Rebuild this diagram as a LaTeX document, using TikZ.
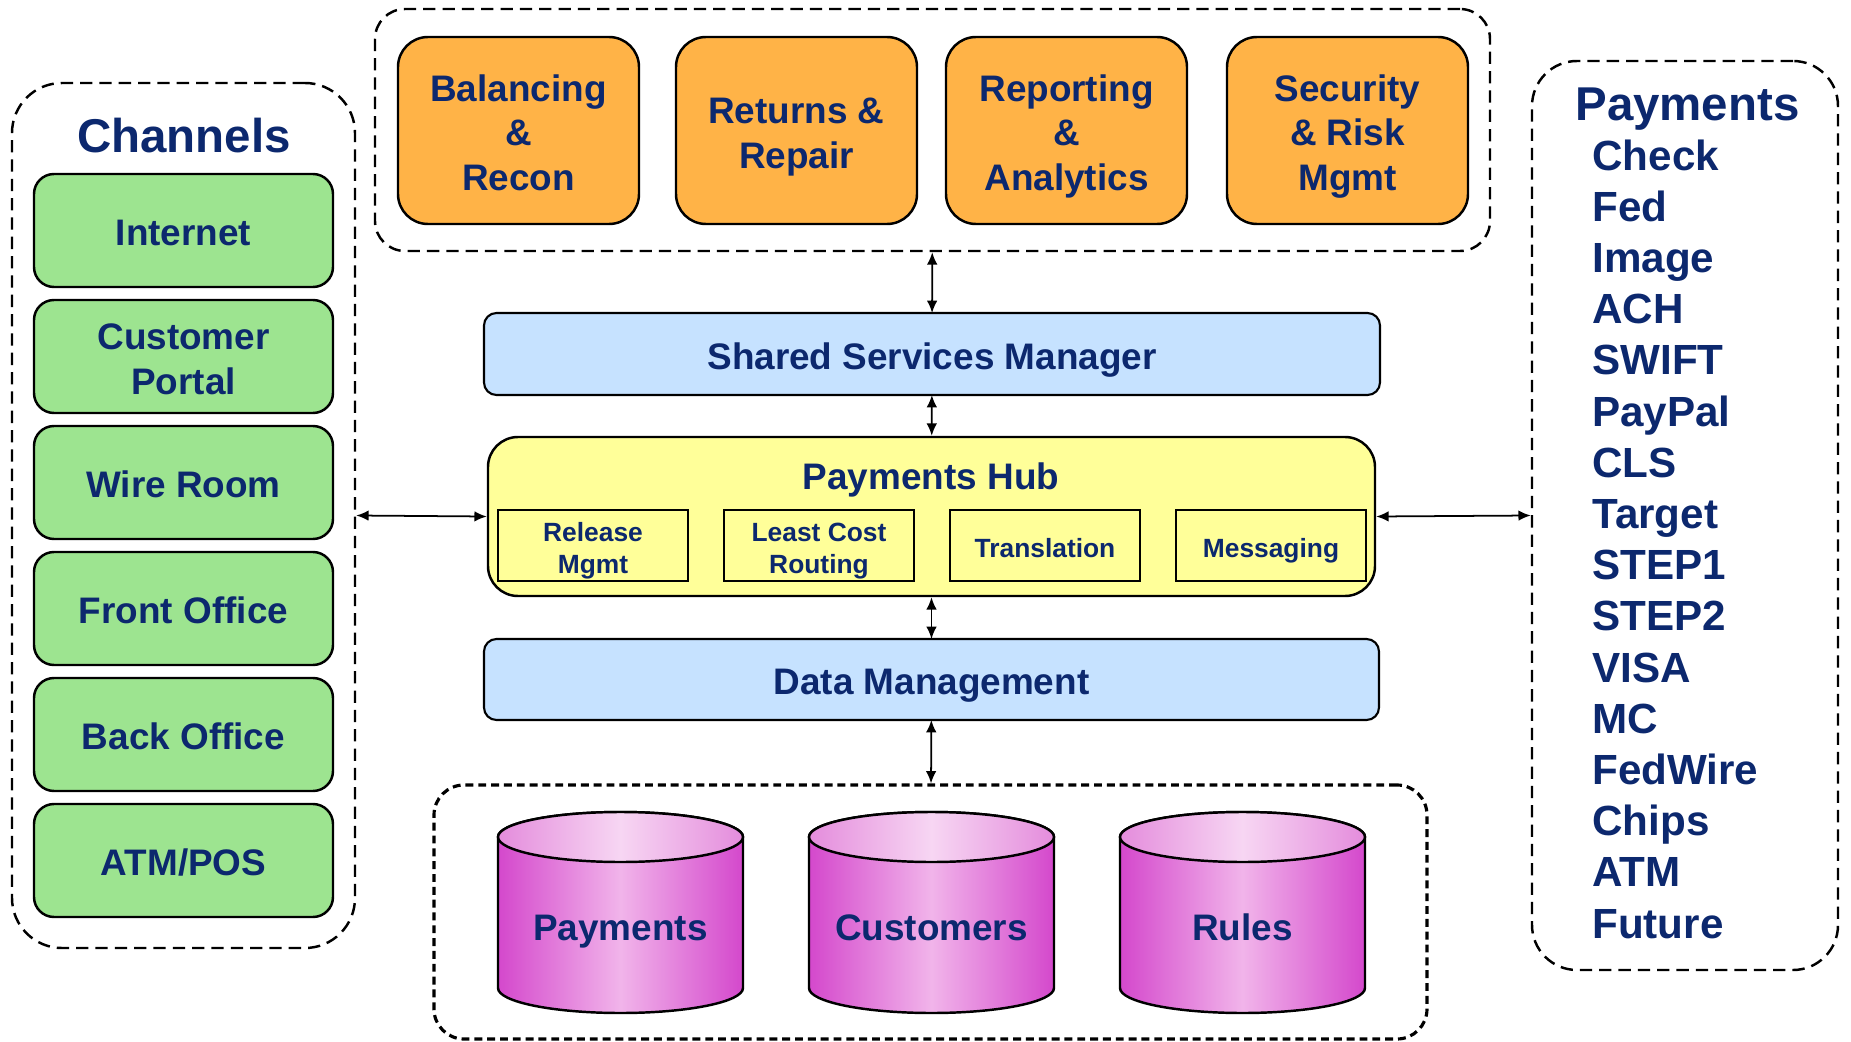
\documentclass[tikz,border=0pt]{standalone}
\usepackage{fontspec}
\setmainfont{Liberation Sans}
\usetikzlibrary{positioning,arrows.meta,backgrounds}

\definecolor{txtblue}{RGB}{12,40,110}
\definecolor{chgreen}{RGB}{157,228,144}
\definecolor{svorange}{RGB}{255,179,71}
\definecolor{mgrblue}{RGB}{198,226,255}
\definecolor{hubyellow}{RGB}{255,255,153}
\definecolor{dbdark}{RGB}{212,72,204}
\definecolor{dblight}{RGB}{241,180,234}
\definecolor{dbtopdark}{RGB}{228,140,220}
\definecolor{dbtoplight}{RGB}{247,214,243}

\newcommand\boxfont{\fontsize{21}{25.5}\selectfont\bfseries}
\newcommand\smallboxfont{\fontsize{15}{18}\selectfont\bfseries}
\newcommand\titlefont{\fontsize{27}{30}\selectfont\bfseries}
\newcommand\listfont{\fontsize{24}{28}\selectfont\bfseries}

\begin{document}
\begin{tikzpicture}[grpbox/.style={draw,line width=1.4pt,dash pattern=on 7pt off 4pt,rounded corners=0.6cm,inner sep=0pt},
		boxtext/.style={align=center,text=txtblue,font=\boxfont,outer sep=0pt,
			execute at begin node={\rule[-5pt]{0pt}{27.6pt}},execute at end node={\rule[-5pt]{0pt}{5pt}}},
		twoline/.style={execute at begin node={\rule[-5pt]{0pt}{53.1pt}}},
		threeline/.style={execute at begin node={\rule[-5pt]{0pt}{78.6pt}}},
		chan/.style={boxtext,draw,line width=1.4pt,rounded corners=0.4cm,fill=chgreen,minimum width=5.98cm,minimum height=2.26cm},
		svc/.style={boxtext,draw,line width=1.4pt,rounded corners=0.6cm,fill=svorange,minimum width=4.82cm,minimum height=3.74cm},
		mgr/.style={boxtext,draw,line width=1.2pt,rounded corners=0.25cm,fill=mgrblue,minimum width=17.92cm,minimum height=1.64cm},
		hubpart/.style={draw,line width=1.2pt,fill=hubyellow,minimum width=3.80cm,minimum height=1.42cm,inner ysep=1pt,align=center,text=txtblue,font=\smallboxfont,outer sep=0pt,
			execute at begin node={\rule[-3.2pt]{0pt}{19.7pt}},execute at end node={\rule[-3.2pt]{0pt}{3.2pt}}},
		smalltwoline/.style={execute at begin node={\rule[-3.2pt]{0pt}{37.7pt}}},
		db/.style={boxtext,minimum width=4.90cm,minimum height=3.52cm},
		dbbody/.style={draw,line width=1.4pt,left color=dbdark,right color=dbdark,middle color=dblight},
		dbtop/.style={draw,line width=1.4pt,left color=dbtopdark,right color=dbtopdark,middle color=dbtoplight},
		pitem/.style={anchor=base west,text=txtblue,font=\listfont,inner sep=0pt},
		biarrow/.style={{Latex[length=7pt,width=6pt]}-{Latex[length=7pt,width=6pt]},line width=1pt}]
		\useasboundingbox (0,0) rectangle (37.02,-20.84);

		\node[grpbox,rounded corners=1cm,minimum width=6.86cm,minimum height=17.30cm]	(channels)	at (3.67,-10.31)	{};
		\node[text=txtblue,font=\titlefont]										(chtitle)	at (3.68,-2.72)		{Channels};
		\node[chan]												(internet)	at (3.67,-4.61)		{Internet};
		\node[chan,twoline,node distance=0.26cm,below=of internet]		(portal)				{Customer\\Portal};
		\node[chan,node distance=0.26cm,below=of portal]				(wire)				{Wire Room};
		\node[chan,node distance=0.26cm,below=of wire]				(front)				{Front Office};
		\node[chan,node distance=0.26cm,below=of front]				(back)				{Back Office};
		\node[chan,node distance=0.26cm,below=of back]				(atm)				{ATM/POS};

		\node[grpbox,minimum width=22.30cm,minimum height=4.84cm]			(services)	at (18.65,-2.60)	{};
		\node[svc,threeline]										(balance)	at (10.37,-2.61)	{Balancing\\\&\\Recon};
		\node[svc,twoline,node distance=0.74cm,right=of balance]		(returns)				{Returns \&\\Repair};
		\node[svc,threeline,node distance=0.58cm,right=of returns]		(report)				{Reporting\\\&\\Analytics};
		\node[svc,threeline,node distance=0.80cm,right=of report]		(security)				{Security\\\& Risk\\Mgmt};

		\node[mgr]												(ssm)		at (18.64,-7.08)	{Shared Services Manager};
		\node[draw,line width=1.4pt,rounded corners=0.6cm,fill=hubyellow,minimum width=17.74cm,minimum height=3.18cm]	(hub)	at (18.63,-10.33)	{};
		\node[text=txtblue,font=\boxfont]								(hubtitle)	at (18.62,-9.59)	{Payments Hub};
		\node[hubpart,smalltwoline]									(release)	at (11.86,-10.91)	{Release\\Mgmt};
		\node[hubpart,smalltwoline,node distance=0.72cm,right=of release]	(lcr)				{Least Cost\\Routing};
		\node[hubpart,node distance=0.72cm,right=of lcr]				(transl)				{Translation};
		\node[hubpart,node distance=0.72cm,right=of transl]			(msg)				{Messaging};
		\node[mgr,minimum width=17.90cm,minimum height=1.62cm]			(dm)		at (18.63,-13.59)	{Data Management};

		\node[grpbox,dash pattern=on 4.5pt off 2.8pt,line width=1.8pt,minimum width=19.86cm,minimum height=5.08cm]	(stores)	at (18.61,-18.24)	{};
		\node[db]													(dpay)		at (12.41,-18.50)	{Payments};
		\node[db,node distance=1.32cm,right=of dpay]					(dcus)				{Customers};
		\node[db,node distance=1.32cm,right=of dcus]					(drul)				{Rules};

		\node[grpbox,rounded corners=0.9cm,minimum width=6.12cm,minimum height=18.18cm]	(rails)	at (33.70,-10.31)	{};
		\node[pitem,font=\titlefont]									(railtitle)	at (31.50,-2.40)	{Payments};
		\foreach \t [count=\i from 0] in {Check,Fed,Image,ACH,SWIFT,PayPal,CLS,Target,STEP1,STEP2,VISA,MC,FedWire,Chips,ATM,Future}
			\node[pitem]	(rail\i)	at (31.84,{-3.40-1.024*\i})	{\t};

		\begin{scope}[on background layer]
			\foreach \c in {dpay,dcus,drul}{
				\path[dbbody] (\c.north west) -- ([yshift=0.5cm]\c.south west) arc[start angle=180,end angle=360,x radius=2.45cm,y radius=0.5cm] -- (\c.north east) arc[start angle=0,end angle=180,x radius=2.45cm,y radius=0.5cm] -- cycle;
				\path[dbtop] (\c.north) ellipse[x radius=2.45cm,y radius=0.5cm];
			}
		\end{scope}

		\draw[biarrow] (services) -- (ssm);
		\draw[biarrow] (ssm) -- (hub);
		\draw[biarrow] (hub) -- (dm);
		\draw[biarrow] (dm) -- (stores);
		\draw[biarrow] (channels.east) -- (hub.west);
		\draw[biarrow] (hub.east) -- (rails.west);
	\end{tikzpicture}
\end{document}
